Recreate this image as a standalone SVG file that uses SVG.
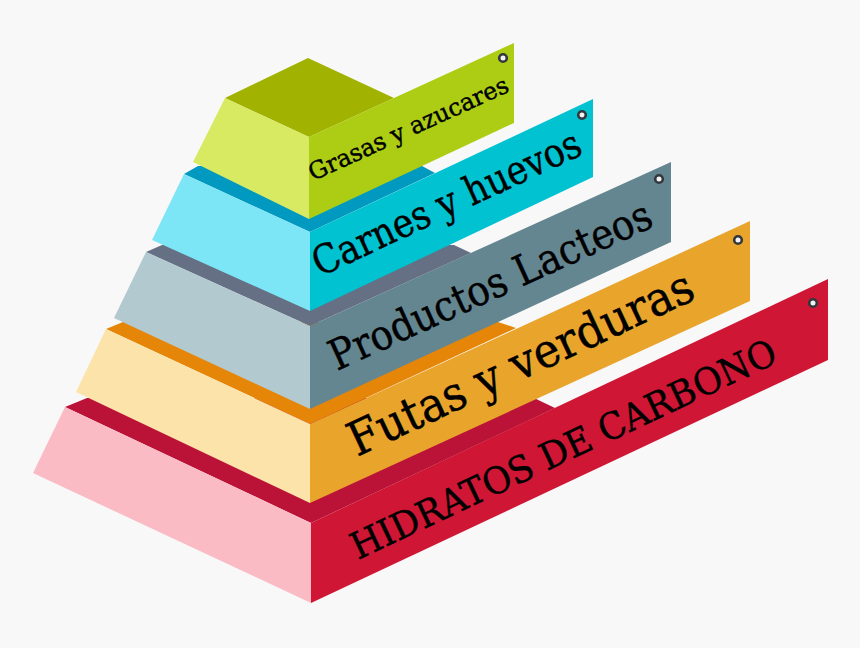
<svg xmlns="http://www.w3.org/2000/svg" width="860" height="648" viewBox="0 0 860 648">
<style>
text{font-family:"DejaVu Serif","Liberation Serif",serif;fill:#000;stroke:#000;stroke-width:.45}
.hole{fill:#f2f2f2;stroke:#33383d;stroke-width:2.6}
</style>
<rect width="860" height="648" fill="#f8f8f8"/>
<g id="level-hidratos">
<polygon points="87,398 65,407 311,523 555,408 534,398" fill="#bb1338"/>
<polygon points="65,407 311,523 311,603 33,473" fill="#fabbc5"/>
<polygon points="311,523 828,279 828,360 311,603" fill="#cf1735"/>
<circle class="hole" cx="813" cy="303" r="3.8"/>
<text transform="translate(358,560) rotate(-25.2)" font-size="37" textLength="466" lengthAdjust="spacingAndGlyphs">HIDRATOS DE CARBONO</text>
</g>
<g id="level-frutas">
<polygon points="123,322 106,329 310,424 516,328 498,322" fill="#e68608"/>
<polygon points="106,329 310,424 310,503 76,392" fill="#fce3aa"/>
<polygon points="310,424 750,221 750,301 310,503" fill="#e9a42c"/>
<circle class="hole" cx="738" cy="240" r="3.8"/>
<text transform="translate(357,457) rotate(-25)" font-size="47" textLength="376" lengthAdjust="spacingAndGlyphs">Futas y verduras</text>
</g>
<g id="level-lacteos">
<polygon points="162,245 146,252 310,326 471,253 454,245" fill="#667085"/>
<polygon points="146,252 310,326 310,409 114,318" fill="#b1c9cf"/>
<polygon points="310,326 671,162 671,242 310,409" fill="#648691"/>
<circle class="hole" cx="659" cy="179" r="3.8"/>
<text transform="translate(337,371) rotate(-24.5)" font-size="42" textLength="350" lengthAdjust="spacingAndGlyphs">Productos Lacteos</text>
</g>
<g id="level-carnes">
<polygon points="198,166 184,174 310,232 435,173 422,166" fill="#0299c0"/>
<polygon points="184,174 310,232 310,311 152,240" fill="#7ce6f6"/>
<polygon points="310,232 593,99 593,177 310,311" fill="#00c2d1"/>
<circle class="hole" cx="582" cy="115" r="3.8"/>
<text transform="translate(320,277) rotate(-25)" font-size="40" textLength="292" lengthAdjust="spacingAndGlyphs">Carnes y huevos</text>
</g>
<g id="level-grasas">
<polygon points="225,98 308,58 394,98 309,137" fill="#a2b200"/>
<polygon points="225,98 309,137 309,219 193,162" fill="#d8ea62"/>
<polygon points="309,137 514,43 514,123 309,219" fill="#accd14"/>
<circle class="hole" cx="503" cy="58" r="3.8"/>
<text transform="translate(313,181) rotate(-24.5)" font-size="24" textLength="217" lengthAdjust="spacingAndGlyphs">Grasas y azucares</text>
</g>
<g id="connectors"/>
</svg>
